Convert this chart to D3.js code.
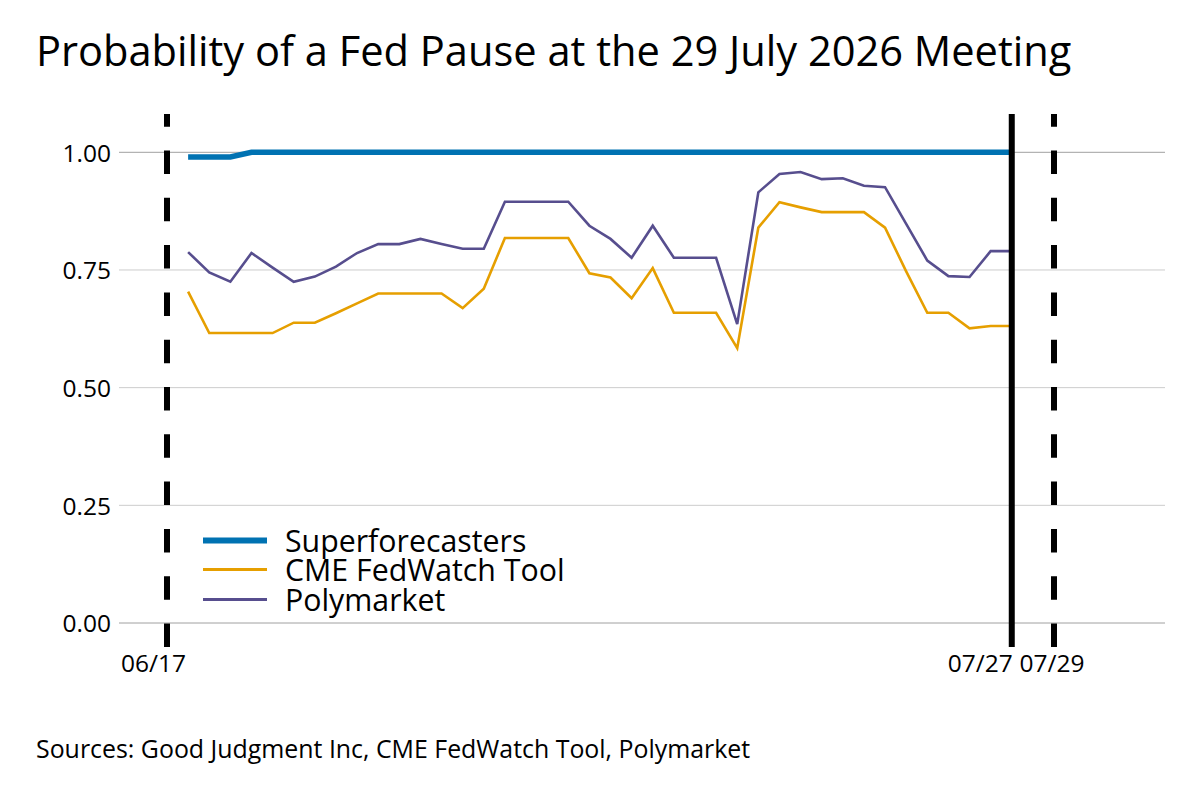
<!DOCTYPE html>
<html>
<head>
<meta charset="utf-8">
<script src="https://cdn.jsdelivr.net/npm/d3@7"></script>
<style>
  html, body { margin: 0; padding: 0; background: #fff; }
  svg { display: block; font-family: "Open Sans", "Noto Sans", sans-serif; }
</style>
</head>
<body>
<svg id="chart" width="1200" height="800"></svg>
<script>
// ---- data ----
const startDate = "2026-06-18";
const endDate = "2026-07-27";
const superforecasters = [0.99,0.99,0.99,1.00,1.00,1.00,1.00,1.00,1.00,1.00,
  1.00,1.00,1.00,1.00,1.00,1.00,1.00,1.00,1.00,1.00,
  1.00,1.00,1.00,1.00,1.00,1.00,1.00,1.00,1.00,1.00,
  1.00,1.00,1.00,1.00,1.00,1.00,1.00,1.00,1.00,1.00];
const cmeFedWatch = [0.704,0.616,0.616,0.616,0.616,0.638,0.638,0.658,0.679,0.700,
  0.700,0.700,0.700,0.669,0.710,0.818,0.818,0.818,0.818,0.743,
  0.734,0.690,0.754,0.659,0.659,0.659,0.584,0.840,0.894,0.883,
  0.873,0.873,0.873,0.840,0.747,0.659,0.659,0.626,0.631,0.631];
const polymarket = [0.788,0.745,0.725,0.786,0.755,0.725,0.736,0.757,0.786,0.805,
  0.805,0.816,0.805,0.795,0.795,0.895,0.895,0.895,0.895,0.844,
  0.816,0.776,0.844,0.776,0.776,0.776,0.635,0.915,0.954,0.958,
  0.943,0.945,0.929,0.926,0.848,0.770,0.737,0.735,0.790,0.790];
const yTicks = [0, 0.25, 0.5, 0.75, 1.0];
const markerDates = [
  {date: "2026-06-17", label: "06/17", dash: true},
  {date: "2026-07-27", label: "07/27", dash: false},
  {date: "2026-07-29", label: "07/29", dash: true}
];
const seriesNames = ["Superforecasters", "CME FedWatch Tool", "Polymarket"];
const titleText = "Probability of a Fed Pause at the 29 July 2026 Meeting";
const sourceText = "Sources: Good Judgment Inc, CME FedWatch Tool, Polymarket";

// ---- layout ----
const plotLeft = 119, plotRight = 1165;
const parse = d3.utcParse("%Y-%m-%d");
const dates = d3.utcDay.range(parse(startDate), d3.utcDay.offset(parse(endDate), 1));

const x = d3.scaleUtc()
  .domain([parse("2026-06-17"), parse("2026-07-29")])
  .range([167, 1054]);
const y = d3.scaleLinear().domain([0, 1]).range([623, 152.3]);

const svg = d3.select("#chart");

// title
svg.append("text")
  .attr("x", 36).attr("y", 66)
  .attr("font-size", 41.6).attr("fill", "#000")
  .text(titleText);

// gridlines
svg.append("g").selectAll("line").data(yTicks).join("line")
  .attr("x1", plotLeft).attr("x2", plotRight)
  .attr("y1", d => y(d)).attr("y2", d => y(d))
  .attr("stroke", d => (d === 0 || d === 1) ? "#a0a0a0" : "#cccccc")
  .attr("stroke-width", 1);

// y axis labels
const yAxis = d3.axisLeft(y).tickValues(yTicks).tickFormat(d3.format(".2f")).tickSize(0).tickPadding(0);
const gy = svg.append("g").attr("transform", "translate(111,0)").call(yAxis);
gy.select(".domain").remove();
gy.selectAll("text").attr("font-size", 24.5).attr("fill", "#000")
  .attr("font-family", "'Open Sans', 'Noto Sans', sans-serif")
  .attr("dy", "0.36em");

// lines
const series = [
  {name: seriesNames[0], values: superforecasters, color: "#0072B2", width: 5.5},
  {name: seriesNames[1], values: cmeFedWatch, color: "#E69F00", width: 2.6},
  {name: seriesNames[2], values: polymarket, color: "#574E8E", width: 2.6}
];
const line = d3.line().x((d, i) => x(dates[i])).y(d => y(d));
svg.append("g").selectAll("path").data(series).join("path")
  .attr("d", d => line(d.values))
  .attr("fill", "none")
  .attr("stroke", d => d.color)
  .attr("stroke-width", d => d.width)
  .attr("stroke-linejoin", "miter");

// vertical markers
const vTop = 114, vBottom = 647;
svg.append("g").selectAll("line").data(markerDates).join("line")
  .attr("x1", d => x(parse(d.date))).attr("x2", d => x(parse(d.date)))
  .attr("y1", vBottom).attr("y2", vTop)
  .attr("stroke", "#000").attr("stroke-width", 6)
  .attr("stroke-dasharray", d => d.dash ? "23.5,23.8" : null);

// x labels
const labelAnchor = {"06/17": ["end", 19], "07/27": ["end", 1], "07/29": ["middle", -2]};
svg.append("g").selectAll("text").data(markerDates).join("text")
  .attr("x", d => x(parse(d.date)) + labelAnchor[d.label][1])
  .attr("y", 672)
  .attr("text-anchor", d => labelAnchor[d.label][0])
  .attr("font-size", 24.5).attr("fill", "#000")
  .text(d => d.label);

// legend
const legend = svg.append("g");
const legY = [540.5, 569.5, 599.5];
series.forEach((s, i) => {
  legend.append("line")
    .attr("x1", 203).attr("x2", 267)
    .attr("y1", legY[i]).attr("y2", legY[i])
    .attr("stroke", s.color).attr("stroke-width", i === 0 ? 6 : 3);
  legend.append("text")
    .attr("x", 285).attr("y", legY[i] + 11)
    .attr("font-size", 30.3).attr("fill", "#000")
    .text(s.name);
});

// source
svg.append("text")
  .attr("x", 36).attr("y", 758)
  .attr("font-size", 24.9).attr("fill", "#000")
  .text(sourceText);
</script>
</body>
</html>
